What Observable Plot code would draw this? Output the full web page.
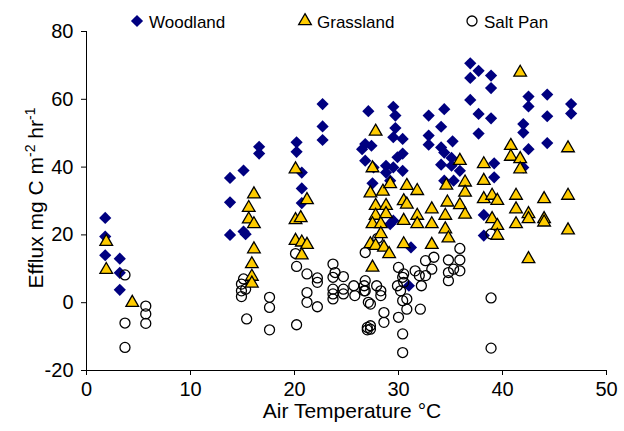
<!DOCTYPE html>
<html><head><meta charset="utf-8">
<script src="https://cdn.jsdelivr.net/npm/d3@7"></script>
<script src="https://cdn.jsdelivr.net/npm/@observablehq/plot@0.6"></script>
<style>
body{margin:0;background:#fff}
svg{font-family:"Liberation Sans",Arial,sans-serif}
</style>
</head><body><div id="chart"></div>
<script>
const seriesNames = ["Woodland", "Grassland", "Salt Pan"];
const xTicks = [0, 10, 20, 30, 40, 50];
const yTicks = [-20, 0, 20, 40, 60, 80];

// [air temperature °C, efflux mg C m-2 hr-1]
const woodland = [
[1.8,25],[1.8,19.5],[1.8,14],
[3.2,13],[3.2,8.8],[3.2,3.8],
[13.8,36.8],[13.8,29.6],[13.8,20],
[15.1,39],[15.1,21],[15.3,20.2],
[16.6,46],[16.6,44],
[20.2,47.3],[20.2,44.5],[20.7,38.4],[20.7,33.7],[20.7,29.4],
[22.7,58.6],[22.7,52],[22.7,48],
[27.1,56.5],[26.8,46.8],[27.4,46.3],[26.5,45.3],[26.8,41.9],[27.6,39.9],[27.5,35.2],
[29.5,57.8],[29.7,55.2],[29.7,51.5],[29.5,48.8],[30.4,48.3],[30.4,44],[29.9,42.9],[28.8,40.4],[29.5,39.9],[30.4,38.9],[28.8,38.4],[29.2,36],[29.5,24.2],[29.2,23.2],[31.2,16.3],[31,5],
[32.9,55.2],[32.9,49.3],[32.9,46.6],[34.4,57.1],[34.1,51.9],[34.1,45.8],[34.4,44.3],[34.1,40.7],[34.4,36],[35.2,47.6],[35.1,42.7],[35.1,40.4],[35.9,38.9],[35.3,36],
[36.9,70.6],[37.7,68.4],[36.9,66.3],[38.9,67],[38.9,63.3],[36.9,59.8],[37.7,55.7],[38.9,54.4],[37.7,49.9],[39.2,41.1],[39.2,37],[38.2,25.9],[38.2,19.8],
[42,52.7],[42,50.2],[42.5,60.8],[42.5,57.9],[44.3,61.4],[44.3,55],[46.6,58.6],[46.6,55.8],[42.5,45.3],[44.3,47.1],[42,39.9]
];

const grassland = [
[1.9,18],[1.9,9.7],[4.4,0],
[16.1,32],[15.6,28],[15.6,24.6],[16.1,23.2],[16.1,15.8],[15.9,11.4],[15.9,7.7],[15.9,5.7],
[20.1,39.4],[21.2,30.3],[20.1,24.4],[20.6,25],[20.1,18.3],[20.7,17.8],[21.2,17.1],[20.7,14],
[27.8,50.5],[27.5,39.7],[27.3,32.3],[28.5,32.8],[29.2,35],[27.8,28.6],[28.8,28.6],[27.8,25.7],[28.8,26.2],[27.5,23.2],[28.3,23.2],[28.3,20.3],[27.3,17.3],[27.8,16.8],[28.6,16.3],[29.1,14.4],[27.5,10.4],
[30.8,34.5],[31.8,33],[30.5,30],[30.8,29],[30.5,24.2],[31.8,25.7],[31.8,23.2],[30.5,17.3],
[33.2,27.6],[33.2,23.2],[33.2,17.1],[34.6,34.6],[34.7,29.6],[34.5,25.7],[34.5,21.7],[34.8,19],
[35.9,41.9],[36.4,35.5],[36.4,32.5],[35.9,28.8],[36.4,26],
[38.2,40.9],[38.2,36],[38.2,30.6],[39,31.6],[39.5,30.1],[39,24.7],[39.5,22.7],[39.5,19.8],
[40.8,46.3],[40.8,43.1],[41.7,42.4],[41.7,39.4],[41.7,67.9],[41.3,31.6],[41.3,27.6],[41.3,23.2],[42.5,26.2],[42.5,24.7],[42.5,12.9],
[44,30.6],[44,24.7],[44,23.7],
[46.3,45.6],[46.3,31.6],[46.3,21.4]
];

const saltPan = [
[3.7,8.2],[3.7,-6],[3.7,-13.2],[5.7,-1],[5.7,-3.3],[5.7,-6.1],
[15.1,7],[14.9,5.5],[15.3,4],[14.9,3.5],[14.9,1.8],[15.4,-4.8],[17.6,1.6],[17.6,-1.4],[17.6,-8],
[20.1,14.5],[20.2,10.7],[21.2,8.5],[22.2,7.3],[22.2,6],[21.2,3],[21.2,0.1],[22.2,-1.2],[20.2,-6.5],
[23.7,11.4],[23.9,8.9],[24.7,7.7],[23.7,7.5],[23.7,4],[23.7,2.6],[23.7,1.1],[24.7,4],[24.7,2.6],[25.7,5],[25.8,2.1],[26.7,5],[26.7,3.5],[27.1,0.1],[27,-7.3],[27,-8],
[26.8,14.8],[28,19],[26.8,6.5],[26.8,3.5],[27.9,5],[28.3,3.5],[28.3,2.1],[27.3,-0.4],[28.6,-2.9],[28.6,-5.8],[27.3,-6.8],[27.3,-7.8],
[30,10.4],[30.5,8.5],[30.4,7.5],[29.9,5],[30.2,3.5],[30.5,6],[30.8,1.1],[30.4,0.6],[30.8,-1.9],[30,-4.3],[30.4,-9.2],[30.4,-14.7],
[31.6,9.4],[32,8],[32.6,8],[32.2,5],[32.1,-1.9],[32.6,12.4],[33.4,13.4],[33.2,9.9],
[34.8,12.6],[35.9,16],[35.9,12.6],[35.3,9.9],[35.9,9.4],[34.8,8.9],[34.8,6.5],
[38.9,20.3],[38.9,1.4],[38.9,-13.4]
];

const navy = "#000080", gold = "#FFCC00";
const rDia = 5.5, rTri = 4.7, rCir = 5;

const chart = Plot.plot({
  width: 624, height: 431,
  marginLeft: 86, marginRight: 18, marginTop: 31, marginBottom: 61,
  style: {fontFamily: "Liberation Sans, Arial, sans-serif", color: "black", background: "white", overflow: "visible"},
  x: {domain: [0, 50], label: null},
  y: {domain: [-20, 80], label: null},
  marks: [
    Plot.axisX({ticks: xTicks, tickSize: 5, tickPadding: 6, fontSize: 20, label: null, tickFormat: d => String(d)}),
    Plot.axisY({ticks: yTicks, tickSize: 5, tickPadding: 8, fontSize: 20, label: null, tickFormat: d => String(d)}),
    Plot.ruleX([0], {stroke: "black"}),
    Plot.ruleY([-20], {stroke: "black"}),
    Plot.dot(woodland, {x: d => d[0], y: d => d[1], symbol: "diamond2", r: rDia, fill: navy, stroke: "none"}),
    Plot.dot(saltPan, {x: d => d[0], y: d => d[1], symbol: "circle", r: rCir, fill: "none", stroke: "black", strokeWidth: 1.3}),
    Plot.dot(grassland, {x: d => d[0], y: d => d[1], symbol: "triangle", r: rTri, fill: gold, stroke: "black", strokeWidth: 1.3})
  ]
});

const svg = d3.select(chart);
// axis titles
svg.append("text").attr("x", 352).attr("y", 418).attr("text-anchor", "middle")
  .attr("font-size", 21).attr("fill", "black").text("Air Temperature °C");
const yt = svg.append("text").attr("transform", "translate(43,198) rotate(-90)")
  .attr("text-anchor", "middle").attr("font-size", 21).attr("fill", "black");
yt.append("tspan").text("Efflux mg C m");
yt.append("tspan").attr("font-size", 14).attr("dy", -8).text("-2");
yt.append("tspan").attr("dy", 8).text(" hr");
yt.append("tspan").attr("font-size", 14).attr("dy", -8).text("-1");

// legend
const legendX = [137, 305, 472];
const legendSym = [
  {type: d3.symbolDiamond2, r: rDia, fill: navy, stroke: "none"},
  {type: d3.symbolTriangle, r: rTri, fill: gold, stroke: "black"},
  {type: d3.symbolCircle, r: rCir, fill: "none", stroke: "black"}
];
seriesNames.forEach((name, i) => {
  const g = svg.append("g").attr("transform", `translate(${legendX[i]},21)`);
  const s = legendSym[i];
  g.append("path").attr("d", d3.symbol(s.type, Math.PI * s.r * s.r)())
    .attr("fill", s.fill).attr("stroke", s.stroke).attr("stroke-width", 1.3);
  g.append("text").attr("x", 12).attr("y", 6.5).attr("text-anchor", "start")
    .attr("font-size", 17).attr("fill", "black").text(name);
});

document.getElementById("chart").appendChild(chart);
</script>
</body></html>
